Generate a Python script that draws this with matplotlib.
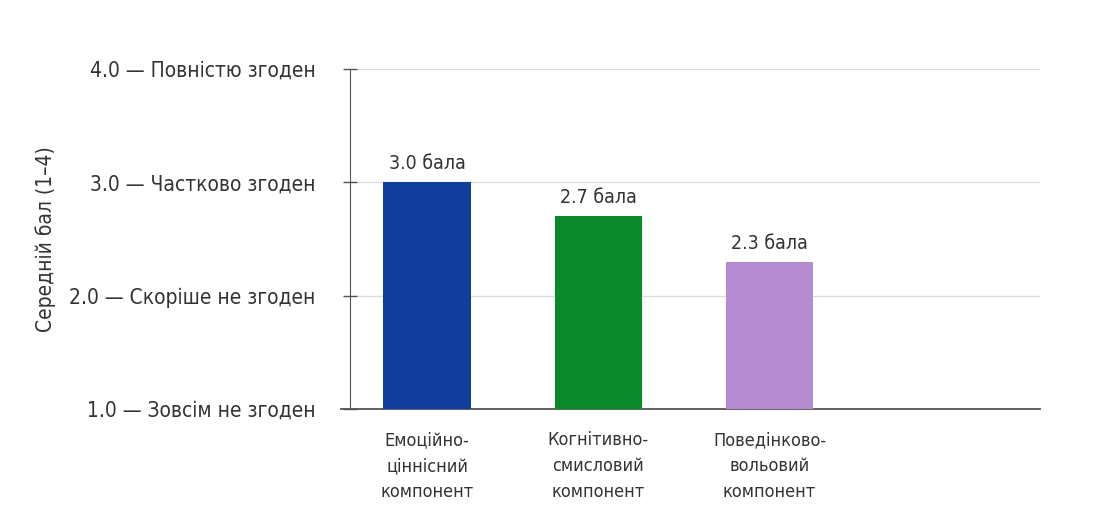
import matplotlib
matplotlib.use("Agg")
import matplotlib.pyplot as plt

# Mean scores per component (scale 1-4)
components = ["Емоційно-\nціннісний\nкомпонент",
              "Когнітивно-\nсмисловий\nкомпонент",
              "Поведінково-\nвольовий\nкомпонент"]
scores = [3.0, 2.7, 2.3]
bar_colors = ["#103d9e", "#0b8a2c", "#b48bd0"]

y_ticks = [1.0, 2.0, 3.0, 4.0]
y_tick_labels = ["1.0 — Зовсім не згоден",
                 "2.0 — Скоріше не згоден",
                 "3.0 — Частково згоден",
                 "4.0 — Повністю згоден"]

plt.rcParams["font.family"] = ["DejaVu Sans"]
plt.rcParams["font.stretch"] = "condensed"
text_color = "#333333"

fig = plt.figure(figsize=(11.02, 5.17), dpi=100)
ax = fig.add_axes([0.3176, 0.2089, 0.6261, 0.6576])

x = list(range(len(scores)))
ax.bar(x, [s - 1.0 for s in scores], bottom=1.0, width=0.51,
       color=bar_colors, zorder=3)

for xi, s in zip(x, scores):
    ax.text(xi, s + 0.08, f"{s:.1f} бала", ha="center", va="bottom",
            fontsize=14, color=text_color)

ax.set_xlim(-0.45, 3.58)
ax.set_ylim(1.0, 4.0)

ax.set_yticks(y_ticks)
ax.set_yticklabels(y_tick_labels, fontsize=15, color=text_color)
ax.tick_params(axis="y", direction="inout", length=10, width=1,
               color="#555555", pad=20)

ax.set_xticks(x)
ax.set_xticklabels(components, fontsize=13, color=text_color, linespacing=1.55)
ax.tick_params(axis="x", length=0, pad=16)

ax.set_ylabel("Середній бал (1–4)", fontsize=15, color=text_color)
ax.yaxis.set_label_coords(-0.426, 0.5)

ax.grid(axis="y", color="#dddddd", linewidth=1, zorder=0)
for side in ["top", "right"]:
    ax.spines[side].set_visible(False)
ax.spines["left"].set_color("#555555")
ax.spines["bottom"].set_color("#555555")
ax.spines["bottom"].set_linewidth(1.3)
ax.spines["bottom"].set_bounds(-0.5, 3.58)

fig.savefig("out.png", dpi=100, facecolor="white")
